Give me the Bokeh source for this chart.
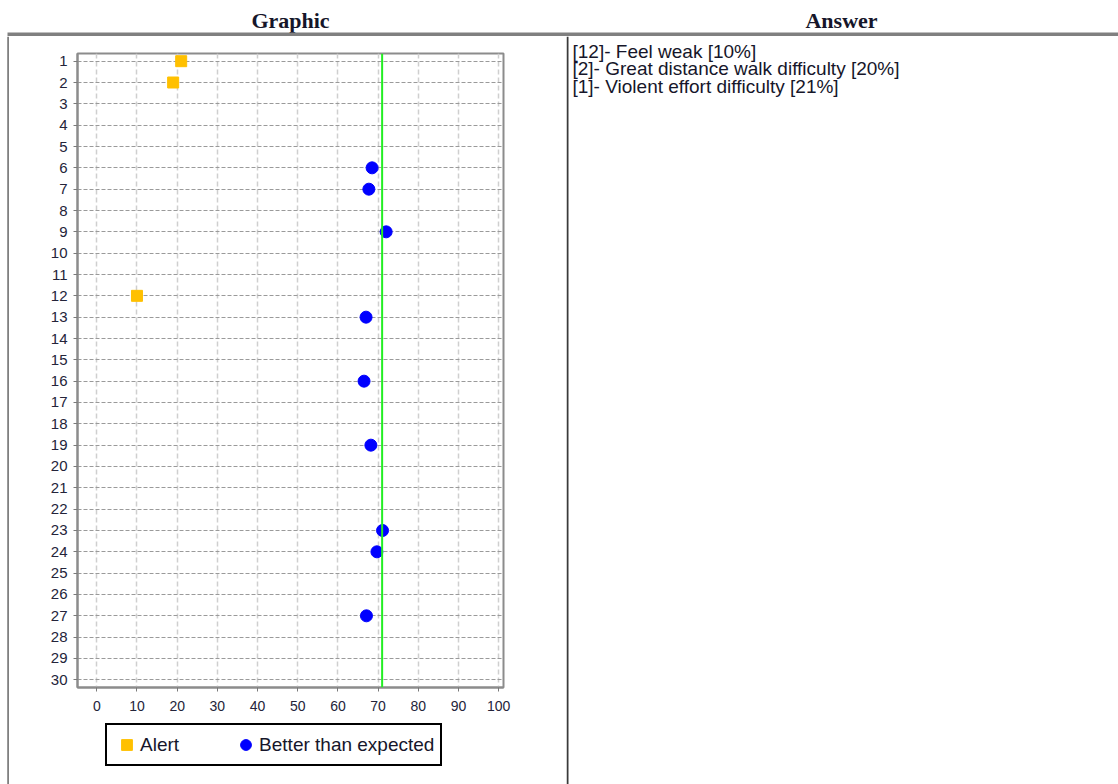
from bokeh.plotting import figure
from bokeh.layouts import row, column
from bokeh.models import (Range1d, FixedTicker, Span, Legend, LegendItem,
                          ColumnDataSource)
from bokeh.core.properties import value
from bokeh.embed import file_html
from bokeh.resources import INLINE

# ---------------- data ----------------
question_ticks = list(range(1, 31))
alert_questions = [1, 2, 12]
alert_values = [21, 19, 10]
better_questions = [6, 7, 9, 13, 16, 19, 23, 24, 27]
better_values = [68.5, 67.7, 72, 67, 66.5, 68.2, 71.1, 69.7, 67.1]
reference_value = 71
x_ticks = [0, 10, 20, 30, 40, 50, 60, 70, 80, 90, 100]
answer_lines = [
    "[12]- Feel weak [10%]",
    "[2]- Great distance walk difficulty [20%]",
    "[1]- Violent effort difficulty [21%]",
]
headers = ["Graphic", "Answer"]
legend_labels = ["Alert", "Better than expected"]

# ---------------- page geometry (pixels) ----------------
PAGE_W, PAGE_H = 1118, 784
HDR_H = 36           # header strip height
EDGE_W = 9           # thin strip holding the left panel border
DIV_X = 566          # divider between the two panels
LEG_TOP = 720        # where the legend strip starts
BORDER = "#808080"
TEXT_DARK = "#16162a"


def blank(w, h):
    f = figure(width=w, height=h, output_backend="svg", toolbar_location=None,
               x_range=Range1d(0, w), y_range=Range1d(h, 0),
               x_axis_location=None, y_axis_location=None,
               min_border=0, outline_line_color=None)
    f.grid.visible = False
    f.background_fill_color = "white"
    f.border_fill_color = "white"
    return f


# ---------------- header strip ----------------
hdr = blank(PAGE_W, HDR_H)
hdr.text(x=[290, 841], y=[19.5, 19.5], text=headers,
         text_font=value("Liberation Serif"), text_font_style="bold",
         text_font_size="22px", text_color=TEXT_DARK,
         text_align="center", text_baseline="middle")
hdr.quad(left=[7], right=[PAGE_W], top=[32], bottom=[35.5],
         fill_color=BORDER, line_color=None)

body_h = PAGE_H - HDR_H

# ---------------- left edge strip ----------------
edge = blank(EDGE_W, body_h)
edge.quad(left=[6.7], right=[8.5], top=[0], bottom=[body_h],
          fill_color=BORDER, line_color=None)

# ---------------- scatter chart ----------------
frame_left, frame_right = 77, 503
frame_top, frame_bottom = 53, 687
chart_w = DIV_X - EDGE_W
chart_h = LEG_TOP - HDR_H

p = figure(width=chart_w, height=chart_h, output_backend="svg",
           toolbar_location=None,
           x_range=Range1d(-4.8, 101.2), y_range=Range1d(30.36, 0.64),
           min_border_left=frame_left - EDGE_W,
           min_border_right=DIV_X - frame_right,
           min_border_top=frame_top - HDR_H,
           min_border_bottom=chart_h - (frame_bottom - HDR_H))
p.background_fill_color = "white"
p.border_fill_color = "white"
p.outline_line_color = "#8c8c8c"
p.outline_line_width = 2

for ax in (p.xaxis[0], p.yaxis[0]):
    ax.axis_line_color = "#8c8c8c"
    ax.axis_line_width = 2
    ax.major_tick_line_color = "#7a7a7a"
    ax.major_tick_in = 0
    ax.major_tick_out = 4
    ax.minor_tick_line_color = None
    ax.major_label_text_font = "Liberation Sans"
    ax.major_label_text_color = "#24243a"
p.xaxis.major_label_text_font_size = "14px"
p.yaxis.major_label_text_font_size = "15px"
p.xaxis.ticker = FixedTicker(ticks=x_ticks)
p.yaxis.ticker = FixedTicker(ticks=question_ticks)
p.xaxis.major_label_standoff = 9
p.yaxis.major_label_standoff = 6

p.xgrid.ticker = FixedTicker(ticks=x_ticks)
p.ygrid.ticker = FixedTicker(ticks=question_ticks)
p.xgrid.grid_line_color = "#cfcfcf"
p.xgrid.grid_line_width = 1.5
p.xgrid.grid_line_dash = "5 3"
p.ygrid.grid_line_color = "#9a9a9a"
p.ygrid.grid_line_width = 1
p.ygrid.grid_line_dash = "4 2"

p.add_layout(Span(location=reference_value, dimension="height",
                  line_color="#22ee22", line_width=2))

ALERT_COLOR = "#ffc000"
BETTER_COLOR = "#0000ff"
alert_src = ColumnDataSource(dict(x=alert_values, y=alert_questions))
better_src = ColumnDataSource(dict(x=better_values, y=better_questions))
p.scatter("x", "y", source=alert_src, marker="square", size=11,
          fill_color=ALERT_COLOR, line_color=ALERT_COLOR)
p.scatter("x", "y", source=better_src, marker="circle", size=12,
          fill_color=BETTER_COLOR, line_color=BETTER_COLOR)

# ---------------- legend strip ----------------
# (its frame is aligned with the chart's frame by the column layout)
leg_h = PAGE_H - LEG_TOP
lg = blank(chart_w, leg_h)
la = lg.scatter("x", "y", source=alert_src, marker="square",
                fill_color=ALERT_COLOR, line_color=ALERT_COLOR, visible=False)
lb = lg.scatter("x", "y", source=better_src, marker="circle",
                fill_color=BETTER_COLOR, line_color=BETTER_COLOR, visible=False)
legend = Legend(items=[LegendItem(label=legend_labels[0], renderers=[la]),
                       LegendItem(label=legend_labels[1], renderers=[lb])],
                orientation="horizontal",
                location=(105 - frame_left, PAGE_H - 766),
                margin=0, padding=6, spacing=53, label_standoff=0,
                glyph_width=27, glyph_height=27, label_height=20,
                label_text_font="Liberation Sans", label_text_font_size="19px",
                label_text_color=TEXT_DARK,
                inactive_fill_alpha=0,
                border_line_color="black", border_line_width=2,
                border_line_alpha=1,
                background_fill_color="white", background_fill_alpha=1)
lg.add_layout(legend, "center")

# ---------------- answer panel ----------------
ans_w = PAGE_W - DIV_X
ans = blank(ans_w, body_h)
ans.quad(left=[0], right=[2], top=[0], bottom=[body_h],
         fill_color="#3a3a3a", line_color=None)
ans.text(x=[6, 6, 6], y=[50.5 - HDR_H, 68 - HDR_H, 85.5 - HDR_H],
         text=answer_lines, text_font=value("Liberation Sans"),
         text_font_size="19px", text_color=TEXT_DARK,
         text_align="left", text_baseline="middle")

left_panel = column(p, lg, spacing=0)
body = row(edge, left_panel, ans, spacing=0)
page = column(hdr, body, spacing=0)

open("out.html", "w").write(file_html(page, INLINE))
